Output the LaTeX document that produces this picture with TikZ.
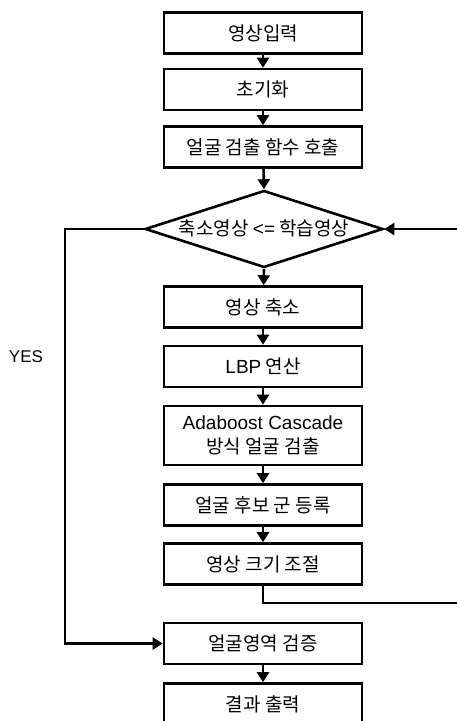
\documentclass[tikz,border=0pt]{standalone}
\usepackage{fontspec}
\setmainfont{Noto Sans CJK KR}
\newfontfamily\lat{Liberation Sans}
\usetikzlibrary{arrows.meta,shapes.geometric}
\begin{document}
\begin{tikzpicture}[x=1pt,y=-1pt,
  txt/.style={font=\fontsize{19}{24}\selectfont, align=center, inner sep=0pt},
  box/.style={txt, draw, line width=2.6pt, minimum width=198pt, minimum height=#1},
  box/.default=41pt,
  flow/.style={line width=2.6pt, -{Triangle[width=12pt,length=10pt]}},
  wire/.style={line width=2.6pt}]
\useasboundingbox (0,0) rectangle (457,721);
\clip (0,0) rectangle (457,721);

% main column of process steps
\node[box] (in)     at (263,33)    {영상입력};
\node[box] (init)   at (263,89.5)  {초기화};
\node[box] (call)   at (263,147)   {얼굴 검출 함수 호출};

% decision
\node[diamond, draw, line width=2.6pt, minimum width=238pt, minimum height=77pt, inner sep=0pt] (dec) at (264,229) {};
\node[txt] (dectext) at (264,228) {축소영상 {\lat <=} 학습영상};

\node[box] (shrink) at (263,307)   {영상 축소};
\node[box] (lbp)    at (263,366.5) {{\lat LBP} 연산};
\node[box=59pt] (ada) at (263,435.5) {{\lat Adaboost Cascade}\\방식 얼굴 검출};
\node[box] (cand)   at (263,505)   {얼굴 후보 군 등록};
\node[box] (resize) at (263,564)   {영상 크기 조절};
\node[box] (verify) at (263,643.5) {얼굴영역 검증};
\node[box] (out)    at (263,704)   {결과 출력};

% straight connectors
\draw[flow] (in) -- (init);
\draw[flow] (init) -- (call);
\draw[flow] (call) -- (dec.north);
\draw[flow] (dec.south) -- (shrink);
\draw[flow] (shrink) -- (lbp);
\draw[flow] (lbp) -- (ada);
\draw[flow] (ada) -- (cand);
\draw[flow] (cand) -- (resize);
\draw[flow] (verify) -- (out);

% loop back to the decision, running along the right edge
\coordinate (loopcorner) at (457.8,603);
\draw[flow] (resize.south) |- (loopcorner) |- (dec.east);

% YES branch
\coordinate (yescorner) at (65,643.5);
\draw[flow] (dec.west) -| (yescorner) -- (verify.west);
\node[font=\lat\fontsize{17}{20}\selectfont, inner sep=0pt] (yes) at (26,357) {YES};
\end{tikzpicture}
\end{document}
